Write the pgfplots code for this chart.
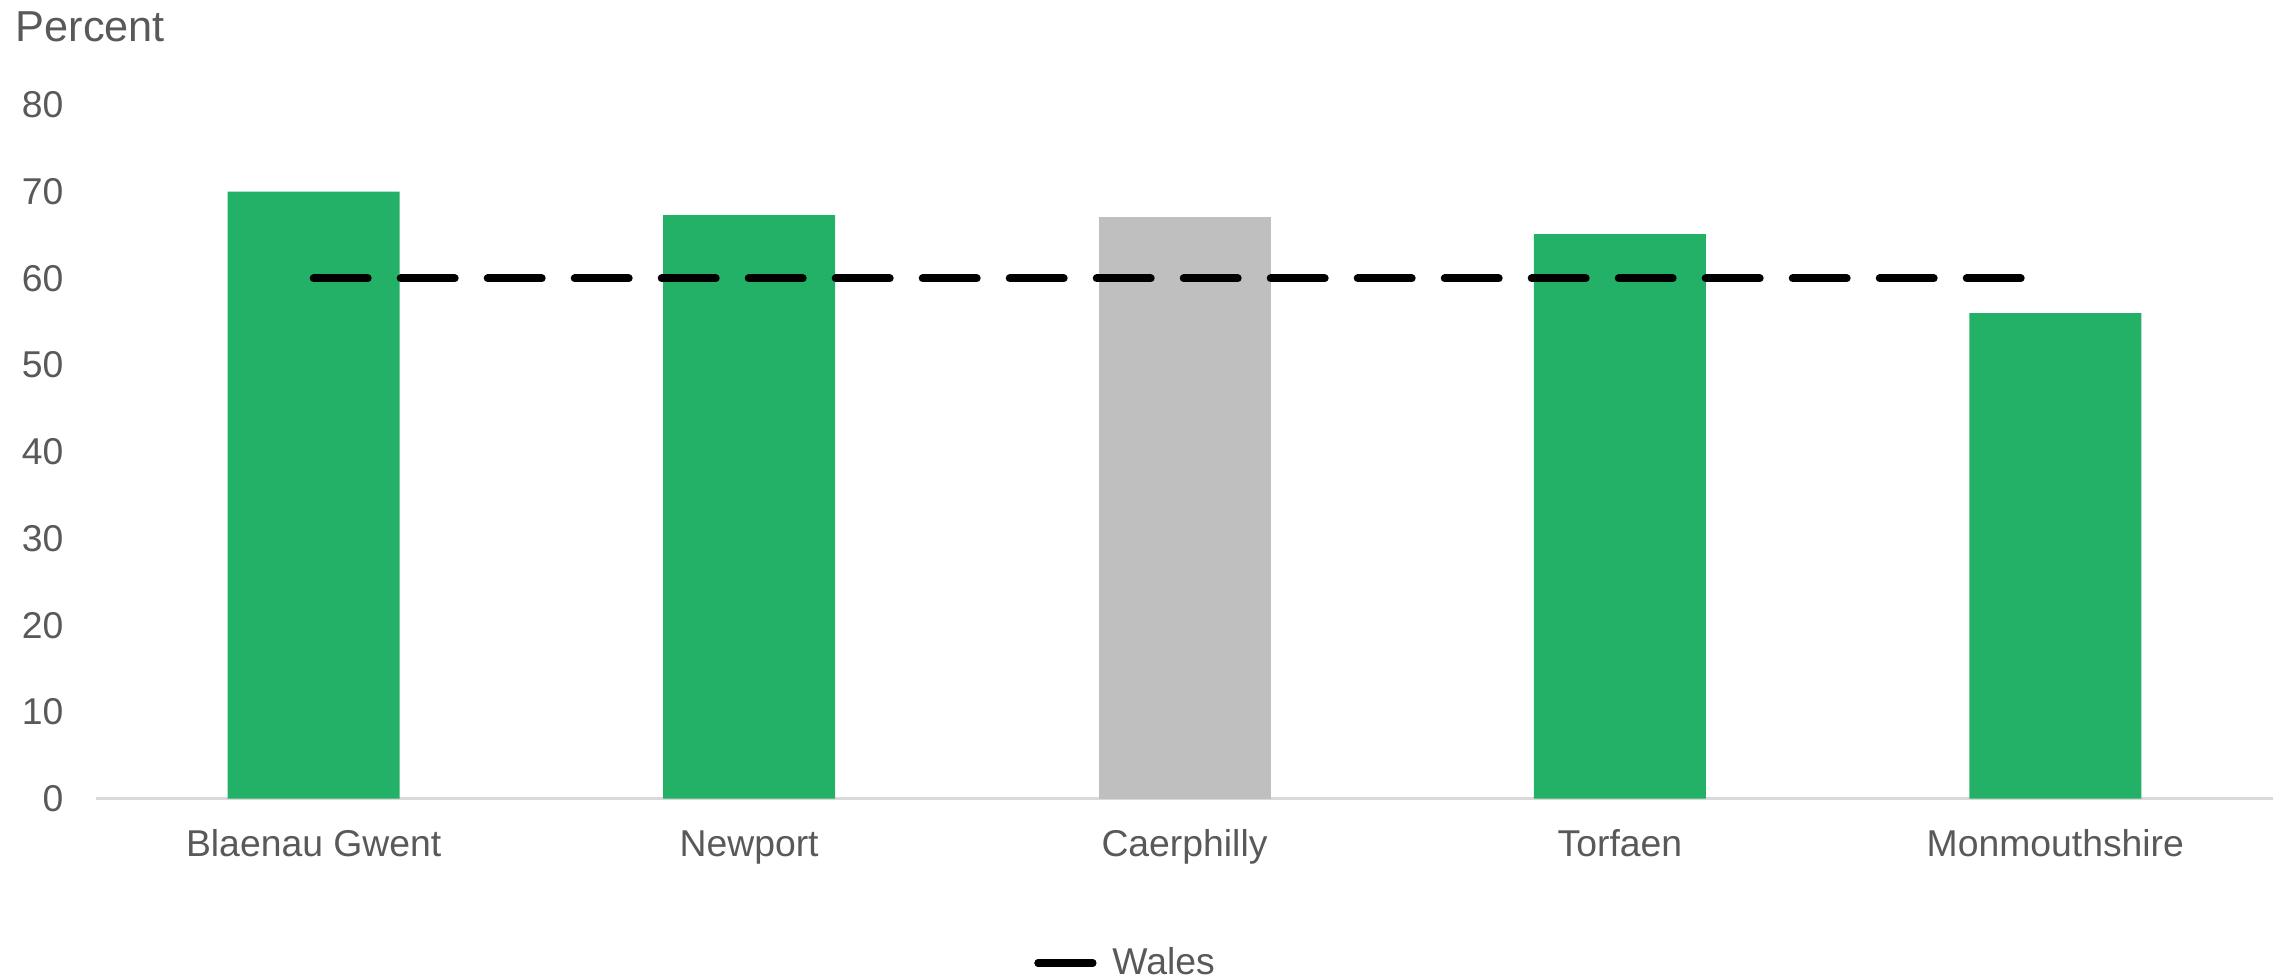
\documentclass[border=0pt]{standalone}
\usepackage{pgfplots}
\pgfplotsset{compat=1.18}
\usepackage{fontspec}
\setmainfont{Liberation Sans}
\definecolor{bargreen}{RGB}{35,177,104}
\definecolor{bargray}{RGB}{191,191,191}
\definecolor{textgray}{RGB}{89,89,89}
\definecolor{axgray}{RGB}{217,217,217}
\begin{document}
\begin{tikzpicture}
\begin{axis}[
  at={(0,0)}, anchor=south west,
  scale only axis,
  width=653.1pt, height=208.1pt,
  xmin=-0.5, xmax=4.5, ymin=0, ymax=80,
  axis x line*=bottom, axis y line*=left,
  x axis line style={draw=axgray, line width=0.8pt, -},
  y axis line style={draw=none},
  major tick length=0pt,
  xtick={0,1,2,3,4},
  xticklabels={Blaenau Gwent, Newport, Caerphilly, Torfaen, Monmouthshire},
  ytick={0,10,...,80},
  /pgf/number format/assume math mode=true,
  tick label style={font=\fontsize{11.2}{13.5}\selectfont, text=textgray},
  xticklabel style={anchor=base, yshift=-17.5pt},
  yticklabel style={anchor=east, inner sep=0pt, xshift=-9.6pt},
  legend style={at={(axis description cs:0.474,-0.237)}, anchor=center, draw=none,
    font=\fontsize{11.2}{13.5}\selectfont, text=textgray},
  legend image code/.code={\draw[#1, solid, line cap=round] (0pt,0pt) -- (16.2pt,0pt);
    \path (0pt,0pt) -- (19pt,0pt);},
  clip=false,
]
\addplot[ybar, bar width=51.6pt, bar shift=0pt, fill=bargreen, draw=none, forget plot]
  coordinates {(0,70.0) (1,67.3) (3,65.1) (4,56.0)};
\addplot[ybar, bar width=51.6pt, bar shift=0pt, fill=bargray, draw=none, forget plot]
  coordinates {(2,67.1)};
\addplot[black, line width=2.4pt, line cap=round, dash pattern=on 16.2pt off 9.9pt, mark=none]
  coordinates {(0,60) (3.94,60)};
\addlegendentry{Wales}
\node[anchor=base west, inner sep=0pt, font=\fontsize{13}{15}\selectfont, text=textgray,
  xshift=-24.3pt, yshift=19pt] at (rel axis cs:0,1) {Percent};
\end{axis}
\pgfresetboundingbox
\path[use as bounding box] (-28.8pt,-54.4pt) rectangle (656.7pt,239.6pt);
\end{tikzpicture}
\end{document}
